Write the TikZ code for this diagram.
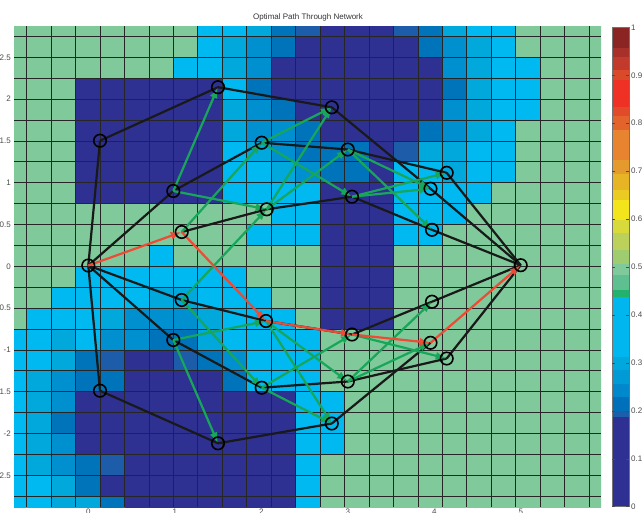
\documentclass[tikz,border=0pt]{standalone}
\usepackage{fontspec}
\setmainfont{Liberation Sans}
\usetikzlibrary{arrows.meta}
\definecolor{cG}{HTML}{80C99A}
\definecolor{cN}{HTML}{2E3192}
\definecolor{cC}{HTML}{00B9F0}
\definecolor{cT}{HTML}{00A8DC}
\definecolor{cB}{HTML}{0090CF}
\definecolor{cD}{HTML}{0074BB}
\definecolor{cE}{HTML}{1C5CA8}
\definecolor{arrowgreen}{HTML}{17A65A}
\definecolor{pathred}{HTML}{EE4A36}
\pgfdeclarelayer{bg}
\pgfdeclarelayer{edges}
\pgfsetlayers{bg,edges,main}
\begin{document}
\begin{tikzpicture}[x=1pt,y=-1pt,
  gridln/.style={line width=0.8pt, draw=black!85},
  blk/.style={line width=2.2pt, draw=black!90},
  grn/.style={line width=2.2pt, draw=arrowgreen, -{Latex[length=11pt,width=8pt]}},
  redp/.style={line width=2.2pt, draw=pathred, -{Latex[length=11pt,width=8pt]}},
  nd/.style={circle, draw=black, line width=1.6pt, minimum size=12.5pt, inner sep=0pt},
  lbl/.style={font=\fontsize{8}{9}\selectfont, text=black!70, inner sep=0pt}]
\useasboundingbox (0,0) rectangle (642,512);
\begin{pgfonlayer}{bg}
\begin{scope}
\clip (14,26) rectangle (601,507);
\foreach \row [count=\j from 0] in {%
 {G,G,G,G,G,G,G,G,C,C,T,D,E,N,N,N,E,D,T,C,C,G,G,G,G},%
 {G,G,G,G,G,G,G,G,C,T,B,D,N,N,N,N,N,D,B,T,C,G,G,G,G},%
 {G,G,G,G,G,G,G,C,C,T,B,N,N,N,N,N,N,N,B,T,C,C,G,G,G},%
 {G,G,G,N,N,N,N,N,N,C,D,N,N,N,N,N,N,N,D,T,C,C,G,G,G},%
 {G,G,G,N,N,N,N,N,N,T,B,D,N,N,N,N,N,N,B,T,C,C,G,G,G},%
 {G,G,G,N,N,N,N,N,N,T,B,B,D,N,N,N,N,D,B,T,C,G,G,G,G},%
 {G,G,G,N,N,N,N,N,N,C,T,B,D,D,D,N,E,T,T,C,C,G,G,G,G},%
 {G,G,G,N,N,N,N,N,N,C,C,T,B,D,D,N,C,C,T,C,C,G,G,G,G},%
 {G,G,G,N,N,N,N,N,N,C,C,C,C,N,N,N,C,C,C,C,G,G,G,G,G},%
 {G,G,G,G,G,G,G,G,G,G,G,C,C,N,N,N,C,C,C,G,G,G,G,G,G},%
 {G,G,G,G,G,G,G,G,G,G,C,C,C,N,N,N,C,C,G,G,G,G,G,G,G},%
 {G,G,G,G,G,G,C,G,G,G,G,G,G,N,N,N,G,G,G,G,G,G,G,G,G},%
 {G,G,G,C,C,C,C,C,C,C,G,G,G,N,N,N,G,G,G,G,G,G,G,G,G},%
 {G,G,C,C,C,C,T,T,C,C,C,G,G,N,N,N,G,G,G,G,G,G,G,G,G},%
 {G,C,C,C,T,B,B,B,T,C,C,C,G,N,N,N,G,G,G,G,G,G,G,G,G},%
 {C,C,T,C,B,B,D,D,T,C,C,C,C,G,G,G,G,G,G,G,G,G,G,G,G},%
 {C,C,T,D,E,N,N,E,D,B,C,C,C,G,G,G,G,G,G,G,G,G,G,G,G},%
 {C,T,B,D,D,N,N,N,N,D,C,C,C,G,G,G,G,G,G,G,G,G,G,G,G},%
 {C,T,B,N,N,N,N,N,N,N,N,N,C,C,G,G,G,G,G,G,G,G,G,G,G},%
 {C,T,D,N,N,N,N,N,N,N,N,N,C,C,G,G,G,G,G,G,G,G,G,G,G},%
 {C,T,B,N,N,N,N,N,N,N,N,N,C,C,G,G,G,G,G,G,G,G,G,G,G},%
 {C,T,B,D,E,N,N,N,N,N,N,N,C,G,G,G,G,G,G,G,G,G,G,G,G},%
 {C,C,T,D,N,N,N,N,N,N,N,N,C,G,G,G,G,G,G,G,G,G,G,G,G},%
 {C,C,T,T,D,N,N,N,N,N,N,N,C,G,G,G,G,G,G,G,G,G,G,G,G}}{%
  \foreach \c [count=\i from 0] in \row {%
    \fill[fill=c\c] ({26.7+24.45*(\i-1)},{36.4+20.9*(\j-1)}) rectangle ({26.7+24.45*\i},{36.4+20.9*\j});
  }%
}
\foreach \k in {0,...,23} \draw[gridln] ({26.7+24.45*\k},26) -- ({26.7+24.45*\k},507);
\foreach \k in {0,...,22} \draw[gridln] (14,{36.4+20.9*\k}) -- (601,{36.4+20.9*\k});
\end{scope}
% colorbar
\foreach \a/\b/\col in {0/0.188/2E3192,0.188/0.2/1B5FAA,0.2/0.229/0070BA,0.229/0.257/0088CC,0.257/0.285/009AD6,0.285/0.313/00A8DE,0.313/0.438/00B6EF,0.438/0.452/22B26E,0.452/0.483/5EBF90,0.483/0.507/80C99A,0.507/0.535/A0CC70,0.535/0.57/BBD15A,0.57/0.598/D8DA3C,0.598/0.64/F4E41C,0.64/0.661/EACB22,0.661/0.695/E6B425,0.695/0.724/E59A2E,0.724/0.786/E8832F,0.786/0.814/E2632B,0.814/0.834/E14B29,0.834/0.89/EE3124,0.89/0.911/D94A2A,0.911/0.939/C23A2C,0.939/0.956/A8302A,0.956/1/8B2523}{
  \definecolor{tmpc}{HTML}{\col}
  \fill[tmpc] (612,{506.7-479.4*\a}) rectangle (629,{506.7-479.4*\b});
}
\draw[black!55, line width=0.6pt] (612,27.3) rectangle (629,506.7);
\foreach \v in {0,0.1,...,1.0} {
  \draw[black!70, line width=0.5pt] (612,{506.7-479.4*\v}) -- (615,{506.7-479.4*\v});
  \draw[black!70, line width=0.5pt] (626,{506.7-479.4*\v}) -- (629,{506.7-479.4*\v});
}
\end{pgfonlayer}
% colorbar labels
\foreach \v/\t in {0/0,0.1/0.1,0.2/0.2,0.3/0.3,0.4/0.4,0.5/0.5,0.6/0.6,0.7/0.7,0.8/0.8,0.9/0.9,1/1}
  \node[lbl, anchor=west] (cb\t) at (631,{506.7-479.4*\v}) {\t};
% axis labels
\foreach \v/\t in {2.5/2.5,2/2,1.5/1.5,1/1,0.5/0.5,0/0,-0.5/-0.5,-1/-1,-1.5/-1.5,-2/-2,-2.5/-2.5}
  \node[lbl, anchor=east] (yl\t) at (11,{266.3-83.6*\v}) {\t};
\foreach \v in {0,...,5}
  \node[lbl, anchor=north] (xl\v) at ({88.3+86.5*\v},508.5) {\v};
\node[lbl, text=black!80] (title) at (308,17) {Optimal Path Through Network};
% network nodes
\node[nd] (s) at (88.3,265.5) {};
\node[nd] (t) at (520.7,265.2) {};
\node[nd] (a1) at (100,140.7) {};
\node[nd] (a2) at (100,390.7) {};
\node[nd] (b1) at (173.3,191) {};
\node[nd] (b2) at (181.7,232) {};
\node[nd] (b3) at (181.7,300) {};
\node[nd] (b4) at (173.3,340) {};
\node[nd] (c1) at (218,87.2) {};
\node[nd] (c2) at (218,443.3) {};
\node[nd] (d1) at (261.7,142.7) {};
\node[nd] (d2) at (266.7,209.3) {};
\node[nd] (d3) at (266,321) {};
\node[nd] (d4) at (261.7,387.7) {};
\node[nd] (e1) at (331.8,107.3) {};
\node[nd] (e2) at (331.8,423.5) {};
\node[nd] (f1) at (347.8,149.5) {};
\node[nd] (f2) at (352,196.7) {};
\node[nd] (f3) at (352,334.5) {};
\node[nd] (f4) at (347.8,381.5) {};
\node[nd] (g1) at (446.7,172.8) {};
\node[nd] (g2) at (430.5,188.7) {};
\node[nd] (g3) at (432,229.8) {};
\node[nd] (g4) at (432,301.7) {};
\node[nd] (g5) at (430.5,342.8) {};
\node[nd] (g6) at (446.7,358.5) {};
\begin{pgfonlayer}{edges}
\foreach \p/\q in {s/a1,s/b1,s/b3,s/b4,s/a2,a1/c1,a2/c2,b1/d1,b2/d2,b3/d3,b4/d4,c1/e1,c2/e2,d1/f1,d2/f2,d3/f3,d4/f4,e1/g2,e2/g5,f1/g1,f2/g3,f3/g4,f4/g6,g1/t,g2/t,g3/t,g4/t,g6/t}
  \draw[blk] (\p.center) -- (\q.center);
\foreach \p/\q in {b1/c1,b1/d2,b2/d1,b3/d2,d1/e1,d2/e1,d1/f2,d2/f1,f1/g2,f1/g3,f2/g1,f2/g2,b4/c2,b4/d3,b3/d4,d3/e2,d4/e2,d3/f4,d4/f3,f4/g4,f4/g5,f3/g6}
  \draw[grn] (\p.center) -- (\q.center);
\foreach \p/\q in {s/b2,b2/d3,d3/f3,f3/g5,g5/t}
  \draw[redp] (\p.center) -- (\q.center);
\end{pgfonlayer}
\end{tikzpicture}
\end{document}
